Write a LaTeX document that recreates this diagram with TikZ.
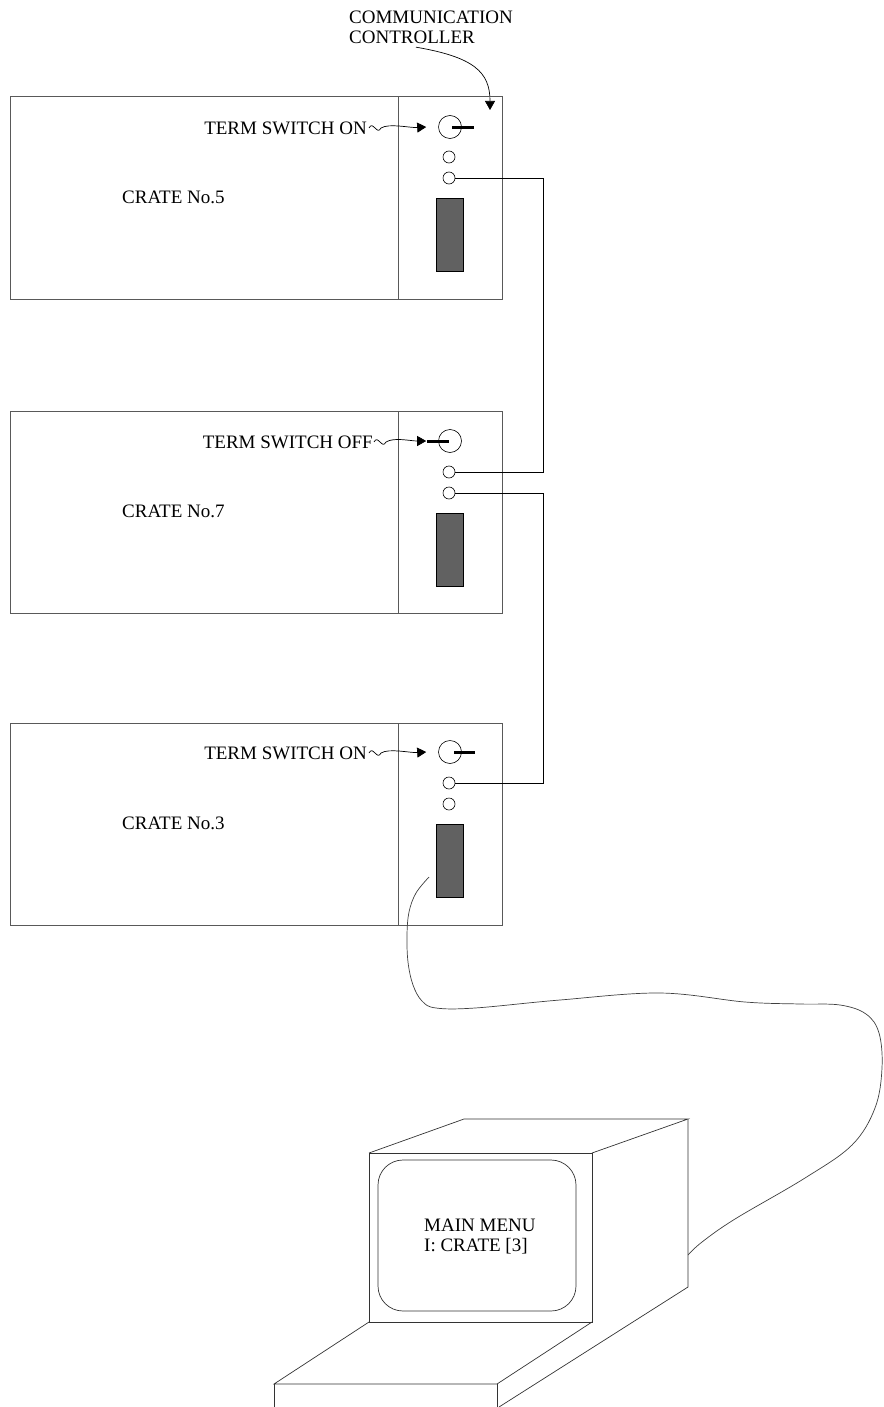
\documentclass[tikz,border=0pt]{standalone}
\usepackage{fontspec}
\setmainfont{Liberation Serif}
\usetikzlibrary{arrows.meta}
\usetikzlibrary{calc}

\begin{document}
\begin{tikzpicture}[x=1pt,y=-1pt,
    every node/.style={inner sep=0pt,font=\fontsize{19}{20}\selectfont},
    crate/.style={draw=black!65,line width=1pt,minimum width=492pt,minimum height=202pt},
    panel/.style={draw=black!65,line width=1pt},
    knob/.style={circle,draw,line width=0.6pt,minimum size=23pt},
    led/.style={circle,draw,line width=0.6pt,minimum size=12pt},
    port/.style={draw,line width=0.6pt,fill=black!62,minimum width=27pt,minimum height=73pt},
    wire/.style={line width=0.8pt},
    lever/.style={line width=3pt},
    pointer/.style={line width=0.7pt,-{Triangle[length=9pt,width=10pt]}},
    cable/.style={line width=0.7pt,black!75}]
    \useasboundingbox (0,0) rectangle (883,1407);

    % communication controller label
    \node[anchor=north west,align=left] (ctrl) at (349,11) {COMMUNICATION\\CONTROLLER};
    \coordinate (cctip) at (490,110);
    \draw[pointer] ([xshift=-15pt,yshift=-3pt]ctrl.south) .. controls +(58,10) and +(0,-38) .. (cctip);

    % crate No.5
    \node[crate] (crate5) at (256,198) {};
    \draw[panel] (398,97) -- (398,299);
    \node[anchor=west] (name5) at (122,197) {CRATE No.5};
    \node[anchor=east] (term5) at (367,128) {TERM SWITCH ON};
    \node[knob] (knob5) at (450,127) {};
    \draw[lever] (452,128) -- (474,128);
    \node[led] (led5a) at (449,157) {};
    \node[led] (led5b) at (449,178) {};
    \node[port] (port5) at (449.5,234.5) {};
    \draw[pointer] ($(term5.east)+(2,0)$) .. controls +(4,-8) and +(-4,8) .. ++(12,0)
        .. controls +(8,-5) and +(-16,1) .. ([xshift=-12pt]knob5.west);

    % crate No.7
    \node[crate] (crate7) at (256,512) {};
    \draw[panel] (398,411) -- (398,613);
    \node[anchor=west] (name7) at (122,511) {CRATE No.7};
    \node[anchor=east] (term7) at (373,442) {TERM SWITCH OFF};
    \node[knob] (knob7) at (450,441) {};
    \draw[lever] (427,441) -- (449,441);
    \node[led] (led7a) at (449,472) {};
    \node[led] (led7b) at (449,493) {};
    \node[port] (port7) at (449.5,549.5) {};
    \draw[pointer] ($(term7.east)+(1,0)$) .. controls +(4,-8) and +(-4,8) .. ++(12,0)
        .. controls +(8,-5) and +(-16,0) .. ([xshift=-12pt]knob7.west);

    % crate No.3
    \node[crate] (crate3) at (256,824) {};
    \draw[panel] (398,723) -- (398,925);
    \node[anchor=west] (name3) at (122,823) {CRATE No.3};
    \node[anchor=east] (term3) at (367,753) {TERM SWITCH ON};
    \node[knob] (knob3) at (450,752) {};
    \draw[lever] (454,752) -- (475,752);
    \node[led] (led3a) at (449,783) {};
    \node[led] (led3b) at (449,804) {};
    \node[port] (port3) at (449.5,860.5) {};
    \draw[pointer] ($(term3.east)+(2,0)$) .. controls +(4,-8) and +(-4,8) .. ++(12,0)
        .. controls +(8,-5) and +(-16,1) .. ([xshift=-12pt]knob3.west);

    % daisy chain between crates
    \draw[wire] (led5b.east) -- ++(88,0) |- (led7a.east);
    \draw[wire] (led7b.east) -- ++(88,0) |- (led3a.east);

    % terminal
    \draw[black!80,line width=0.7pt] (369,1153) rectangle (592,1322);
    \draw[black!80,line width=0.7pt] (369,1153) -- (464,1119) -- (688,1119) -- (592,1153);
    \draw[black!80,line width=0.7pt] (688,1119) -- (688,1287) -- (499,1407);
    \draw[black!80,line width=0.7pt] (369,1322) -- (274,1384) -- (497,1384) -- (592,1322);
    \draw[black!80,line width=0.7pt] (274,1384) -- (274,1407);
    \draw[black!80,line width=0.7pt] (497,1384) -- (497,1407);
    \draw[black!80,line width=0.7pt,rounded corners=25pt] (378,1160) rectangle (576,1311);
    \node[anchor=west,align=left] (menu) at (424,1236) {MAIN MENU\\I: CRATE [3]};

    % cable to the terminal
    \coordinate (plug) at (429,877);
    \coordinate (jack) at (688,1255);
    \draw[cable] plot[smooth,tension=0.6] coordinates {(plug) (416,893) (409,912) (407,935)
        (408,962) (413,985) (422,1001) (436,1008) (475,1008) (560,1000) (660,993) (745,1002)
        (800,1004) (840,1005) (866,1014) (879,1033) (882,1068) (875,1108) (852,1145)
        (805,1178) (735,1219) (702,1242) (jack)};
\end{tikzpicture}
\end{document}
